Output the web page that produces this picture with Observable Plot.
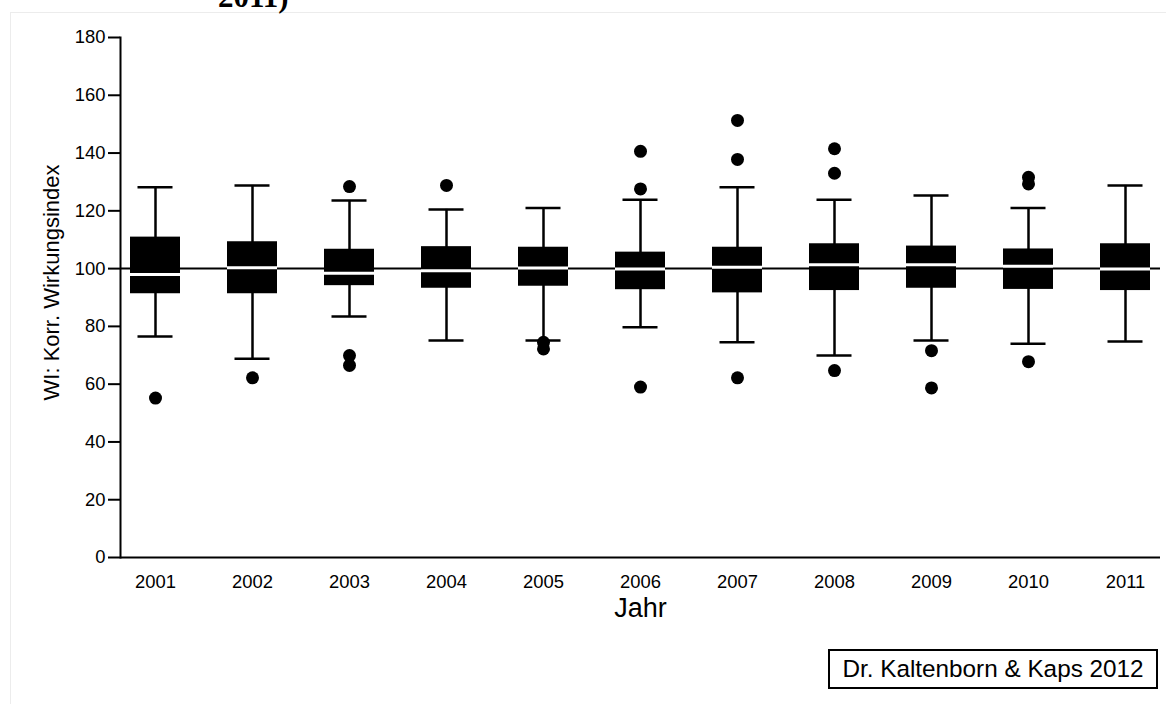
<!DOCTYPE html>
<html>
<head>
<meta charset="utf-8">
<script src="https://cdn.jsdelivr.net/npm/d3@7"></script>
<script src="https://cdn.jsdelivr.net/npm/@observablehq/plot@0.6"></script>
<style>
  html, body { margin: 0; padding: 0; background: #fff; }
  #wrap { position: relative; width: 1166px; height: 704px; overflow: hidden; background: #fff; }
  #frameline { position: absolute; left: 10px; top: 12px; width: 1200px; height: 800px; border-top: 1px solid #ececec; border-left: 1px solid #ececec; }
  #title { position: absolute; left: 218px; top: -19px; font-family: "Liberation Serif", "Times New Roman", serif; font-weight: bold; font-size: 31px; line-height: 1; white-space: nowrap; color: #000; }
  #chart { position: absolute; left: 0; top: 0; }
  #caption { position: absolute; left: 828px; top: 649px; width: 330px; height: 40px; box-sizing: border-box; border: 2px solid #000; font-family: "Liberation Sans", Arial, sans-serif; font-size: 24.3px; line-height: 36px; text-align: center; white-space: nowrap; color: #000; background: #fff; }
</style>
</head>
<body>
<div id="wrap">
  <div id="frameline"></div>
  <div id="title">2011)</div>
  <div id="chart"></div>
  <div id="caption">Dr. Kaltenborn &amp; Kaps 2012</div>
</div>
<script>
const years = ["2001","2002","2003","2004","2005","2006","2007","2008","2009","2010","2011"];
const whiskerHigh = [128.2, 128.8, 123.6, 120.5, 121.0, 123.8, 128.2, 123.8, 125.3, 121.0, 128.8];
const quartile3   = [110.9, 109.3, 106.7, 107.6, 107.4, 105.7, 107.4, 108.6, 107.8, 106.8, 108.6];
const medians     = [ 98.0, 100.3,  98.4,  99.3, 100.2,  99.9, 100.5, 101.3, 101.3, 100.8,  99.9];
const quartile1   = [ 91.3,  91.3,  94.1,  93.2,  93.9,  92.7,  91.6,  92.4,  93.2,  92.8,  92.4];
const whiskerLow  = [ 76.5,  68.8,  83.4,  75.1,  75.1,  79.7,  74.5,  69.9,  75.1,  74.0,  74.8];

const outlierYears  = ["2001","2002","2003","2003","2003","2004","2005","2005","2006","2006","2006","2007","2007","2007","2008","2008","2008","2009","2009","2010","2010","2010"];
const outlierValues = [ 55.2,  62.2,  128.4, 69.9,  66.5,  128.8, 74.5,  72.2,  140.6, 127.6, 59.0,  151.3, 137.8, 62.2,  141.5, 133.0, 64.7,  71.6,  58.7,  131.6, 129.3, 67.8];

const yTicks = [0, 20, 40, 60, 80, 100, 120, 140, 160, 180];
const referenceValue = [100];
const xLabel = "Jahr";
const yLabel = "WI: Korr. Wirkungsindex";

const boxes = years.map((y, i) => ({
  year: y, lo: whiskerLow[i], q1: quartile1[i], med: medians[i], q3: quartile3[i], hi: whiskerHigh[i]
}));
const outliers = outlierYears.map((y, i) => ({year: y, value: outlierValues[i]}));

const chart = Plot.plot({
  width: 1166,
  height: 630,
  marginLeft: 120,
  marginRight: 6,
  marginTop: 37,
  marginBottom: 73,
  style: {fontFamily: "'Liberation Sans', Arial, sans-serif", color: "#000", background: "transparent", overflow: "visible"},
  x: {type: "band", domain: years, paddingInner: 0.485, paddingOuter: 0.1, align: 0.5},
  y: {domain: [0, 180]},
  marks: [
    Plot.ruleY(referenceValue, {stroke: "#000", strokeWidth: 2}),
    Plot.ruleX(boxes, {x: "year", y1: "lo", y2: "hi", stroke: "#000", strokeWidth: 2.5}),
    Plot.tickY(boxes, {x: "year", y: "hi", stroke: "#000", strokeWidth: 2.5, insetLeft: 7.5, insetRight: 7.5}),
    Plot.tickY(boxes, {x: "year", y: "lo", stroke: "#000", strokeWidth: 2.5, insetLeft: 7.5, insetRight: 7.5}),
    Plot.barY(boxes, {x: "year", y1: "q1", y2: "q3", fill: "#000"}),
    Plot.tickY(boxes, {x: "year", y: "med", stroke: "#fff", strokeWidth: 3}),
    Plot.dot(outliers, {x: "year", y: "value", r: 6.5, fill: "#000", stroke: "none"}),
    Plot.ruleY([0], {stroke: "#000", strokeWidth: 2}),
    Plot.frame({anchor: "left", stroke: "#000", strokeWidth: 2}),
    Plot.axisY({ticks: yTicks, tickSize: 12, tickPadding: 3, strokeWidth: 2, fontSize: 18.4, label: null}),
    Plot.axisX({tickSize: 0, tickPadding: 17, fontSize: 18.4, label: null}),
    Plot.text([xLabel], {frameAnchor: "bottom", textAnchor: "middle", lineAnchor: "bottom", dy: 59, fontSize: 27, fill: "#000"}),
    Plot.text([yLabel], {frameAnchor: "left", textAnchor: "middle", lineAnchor: "middle", dx: -69, dy: -15, rotate: -90, fontSize: 22, fill: "#000"})
  ]
});
document.getElementById("chart").appendChild(chart);
</script>
</body>
</html>
